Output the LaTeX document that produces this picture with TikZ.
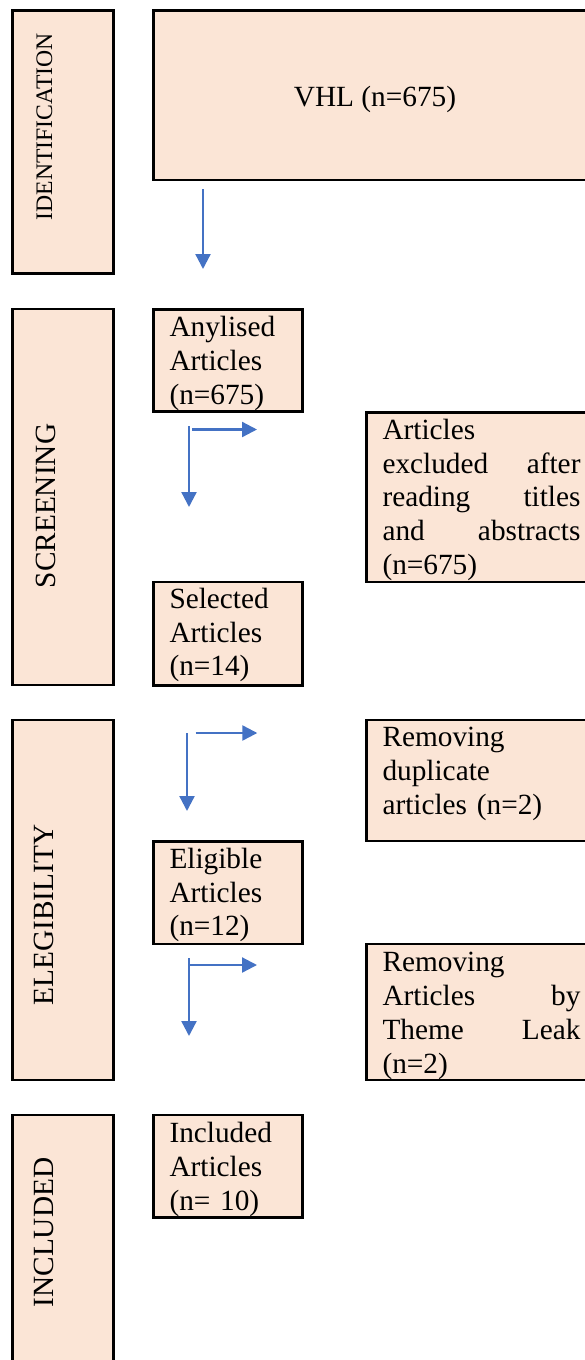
\documentclass[tikz,border=0pt]{standalone}
\usepackage{fontspec}
\setmainfont{Liberation Serif}
\usetikzlibrary{arrows.meta}
\definecolor{peach}{HTML}{FBE5D6}
\definecolor{flowblue}{HTML}{4472C4}
\hyphenpenalty=10000
\exhyphenpenalty=10000
\newcommand{\bodyfont}{\fontsize{29.3}{33.7}\selectfont}
\begin{document}
\begin{tikzpicture}[x=1pt,y=-1pt,
  box/.style={draw=black, fill=peach, line width=2.3pt, inner sep=0pt, outer sep=0pt, anchor=north west},
  body/.style={inner sep=0pt, anchor=north west, text width=#1, align=left, font=\bodyfont},
  body/.default=130pt,
  lab/.style={rotate=90, anchor=base, inner sep=0pt, font=\bodyfont},
  flow/.style={draw=flowblue, line width=2.3pt, -{Triangle[width=15pt,length=15pt]}}
]
\clip (0,0) rectangle (585,1360);
% phase boxes
\node[box, minimum width=101pt, minimum height=263pt] (idB) at (12.5,10.5) {};
\node[box, minimum width=101pt, minimum height=376pt] (scB) at (12.5,309) {};
\node[box, minimum width=101pt, minimum height=360pt] (elB) at (12.5,720) {};
\node[box, minimum width=101pt, minimum height=260pt] (inB) at (12.5,1115) {};
% phase labels
\node[lab, font=\fontsize{23.7}{28}\selectfont] (idT) at (52,126.7) {IDENTIFICATION};
\node[lab] (scT) at (55,506) {SCREENING};
\node[lab] (elT) at (53.5,915) {ELEGIBILITY};
\node[lab] (inT) at (53.5,1232.5) {INCLUDED};
% content boxes
\node[box, minimum width=444pt, minimum height=169.5pt] (vhl) at (153.5,10.5) {};
\node[box, minimum width=149pt, minimum height=102pt] (any) at (153.5,309.5) {};
\node[box, minimum width=231pt, minimum height=169.5pt] (excl) at (366.5,412.5) {};
\node[box, minimum width=149pt, minimum height=103.5pt] (sel) at (153.5,582) {};
\node[box, minimum width=231pt, minimum height=121pt] (dup) at (366.5,720) {};
\node[box, minimum width=149pt, minimum height=102.5pt] (eli) at (153.5,841.5) {};
\node[box, minimum width=231pt, minimum height=136pt] (thm) at (366.5,944) {};
\node[box, minimum width=149pt, minimum height=102.5pt] (inc) at (153.5,1115) {};
% texts
\node[anchor=base, inner sep=0pt, font=\bodyfont] (vhlT) at (375,106) {VHL (n=675)};
\node[body] (anyT) at (169.3,313.1) {\strut Anylised\\\strut Articles\\\strut (n=675)};
\node[body=198pt] (exclT) at (382.3,415.7) {\strut Articles\\\strut excluded\hfill after\\\strut reading\hfill titles\\\strut and\hfill abstracts\\\strut (n=675)};
\node[body] (selT) at (169.3,584.7) {\strut Selected\\\strut Articles\\\strut (n=14)};
\node[body=198pt] (dupT) at (382.3,723.1) {\strut Removing\\\strut duplicate\\\strut articles (n=2)};
\node[body] (eliT) at (169.3,844.7) {\strut Eligible\\\strut Articles\\\strut (n=12)};
\node[body=198pt] (thmT) at (382.3,948.1) {\strut Removing\\\strut Articles\hfill by\\\strut Theme\hfill Leak\\\strut (n=2)};
\node[body] (incT) at (169.3,1119.1) {\strut Included\\\strut Articles\\\strut (n= 10)};
% arrow end points
\coordinate (a1s) at (203,189);   \coordinate (a1e) at (203,269);
\coordinate (a2s) at (189,426);   \coordinate (a2e) at (189,507);
\coordinate (a3s) at (192,429.5); \coordinate (a3e) at (257,429.5);
\coordinate (a4s) at (187,733);   \coordinate (a4e) at (187,811);
\coordinate (a5s) at (195.7,733); \coordinate (a5e) at (257.3,733);
\coordinate (a6s) at (189,958);   \coordinate (a6e) at (189,1036);
\coordinate (a7s) at (189,965);   \coordinate (a7e) at (257,965);
\draw[flow] (a1s) -- (a1e);
\draw[flow] (a2s) -- (a2e);
\draw[flow] (a3s) -- (a3e);
\draw[flow] (a4s) -- (a4e);
\draw[flow] (a5s) -- (a5e);
\draw[flow] (a6s) -- (a6e);
\draw[flow] (a7s) -- (a7e);
\end{tikzpicture}
\end{document}
